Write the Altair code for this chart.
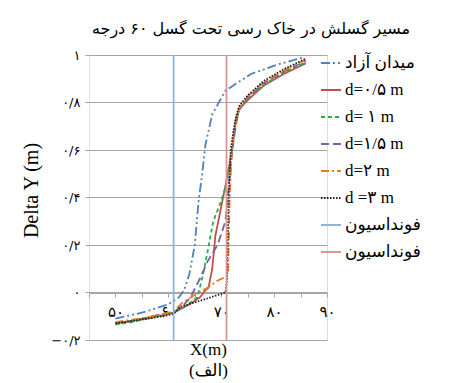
import altair as alt
import pandas as pd

# ---- data ----
series_keys = ["a", "b", "c", "d", "e", "f", "g", "h"]
series_labels = ["میدان آزاد", "d=۰/۵ m", "d= ۱ m", "d=۱/۵ m", "d=۲ m", "d =۳ m", "فونداسیون", "فونداسیون"]
series_colors = ["#4F81BD", "#C0504D", "#22B04B", "#7E5EA6", "#EE7A1E", "#202020", "#95B3D7", "#DA9694"]
series_dashes = [[9, 3, 2, 3, 2, 3], [1, 0], [4, 3], [8, 4], [8, 3, 2, 3], [1.5, 1.5], [1, 0], [1, 0]]
series_widths = [1.8, 1.8, 1.8, 1.8, 1.8, 1.6, 1.3, 1.3]

free_x = [50, 55, 60, 62, 63, 64, 65, 65.7, 66.4, 67, 68.3, 70.8, 75.6, 80.7, 85.6]
free_y = [-0.11, -0.085, -0.05, -0.02, 0.01, 0.08, 0.2, 0.38, 0.5, 0.62, 0.75, 0.85, 0.92, 0.96, 0.99]

d05_x = [50, 53, 56, 59, 61, 64, 66, 67, 67.6, 68.3, 68.9, 69.9, 70.8, 71.4, 72.1, 72.7, 73.3, 75, 78, 81.8, 86]
d05_y = [-0.13, -0.12, -0.11, -0.095, -0.085, -0.05, -0.02, 0.01, 0.02, 0.10, 0.24, 0.35, 0.45, 0.52, 0.61, 0.72, 0.77, 0.81, 0.87, 0.92, 0.965]

d1_x = [50, 53, 56, 59, 61, 63, 65.5, 66.4, 67.4, 68.5, 69.9, 70.8, 71.8, 72.3, 72.8, 73.4, 75, 78, 81.8, 86]
d1_y = [-0.135, -0.125, -0.11, -0.095, -0.085, -0.06, -0.02, 0.06, 0.17, 0.30, 0.38, 0.44, 0.55, 0.64, 0.72, 0.77, 0.815, 0.875, 0.925, 0.97]

d15_x = [50, 53, 56, 59, 61, 63, 64.2, 66, 67.4, 69.3, 70.8, 71.4, 71.9, 72.4, 72.9, 73.4, 75, 78, 81.8, 86]
d15_y = [-0.13, -0.12, -0.105, -0.09, -0.085, -0.05, -0.02, 0.06, 0.13, 0.20, 0.30, 0.44, 0.56, 0.65, 0.72, 0.77, 0.82, 0.88, 0.93, 0.975]

d2_x = [50, 53, 56, 59, 61, 62.8, 65, 67.4, 69.3, 70.8, 71.3, 71.6, 72, 72.5, 73, 73.5, 75, 78, 81.8, 86]
d2_y = [-0.125, -0.115, -0.105, -0.09, -0.08, -0.04, -0.01, 0.02, 0.05, 0.065, 0.08, 0.4, 0.6, 0.68, 0.74, 0.78, 0.825, 0.885, 0.935, 0.98]

d3_x = [50, 53, 56, 59, 61, 62.3, 66, 70.8, 71.1, 71.4, 71.8, 72.3, 72.8, 73.4, 75, 78, 81.8, 86]
d3_y = [-0.13, -0.12, -0.11, -0.1, -0.09, -0.06, -0.035, 0.0, 0.05, 0.4, 0.6, 0.68, 0.74, 0.785, 0.83, 0.89, 0.94, 0.985]

found1_x = [61, 61]
found1_y = [-0.2, 1]
found2_x = [71, 71]
found2_y = [-0.2, 1]

x_tick_values = [45, 50, 55, 60, 65, 70, 75, 80, 85, 90]
x_tick_labels = {50: "۵۰", 60: "۶۰", 70: "۷۰", 80: "۸۰", 90: "۹۰"}
y_tick_values = [-0.2, 0, 0.2, 0.4, 0.6, 0.8, 1]
y_tick_labels = ["−۰/۲", "۰", "۰/۲", "۰/۴", "۰/۶", "۰/۸", "۱"]

title_text = "مسیر گسلش در خاک رسی تحت گسل ۶۰ درجه"

# ---- build table ----
all_series = [
    ("a", free_x, free_y), ("b", d05_x, d05_y), ("c", d1_x, d1_y), ("d", d15_x, d15_y),
    ("e", d2_x, d2_y), ("f", d3_x, d3_y), ("g", found1_x, found1_y), ("h", found2_x, found2_y),
]
rows = []
for key, xs, ys in all_series:
    for i, (xv, yv) in enumerate(zip(xs, ys)):
        rows.append({"s": key, "x": xv, "y": yv, "o": i})
df = pd.DataFrame(rows)

# ---- label expressions ----
x_expr = " : ".join(f"datum.value == {v} ? '{t}'" for v, t in x_tick_labels.items()) + " : ''"
y_parts = []
for v, t in zip(y_tick_values, y_tick_labels):
    y_parts.append(f"abs(datum.value - ({v})) < 0.01 ? '{t}'")
y_expr = " : ".join(y_parts) + " : ''"
leg_expr = " : ".join(f"datum.value == '{k}' ? '{l}'" for k, l in zip(series_keys, series_labels)) + " : ''"

FONT_LAT = "Liberation Serif, DejaVu Sans"
FONT_AR = "DejaVu Sans"
GRID = "#A6A6A6"

W, H = 238, 285

legend = alt.Legend(
    title=None, orient="none", legendX=231, legendY=-3,
    symbolType="stroke", symbolSize=400, symbolStrokeWidth=2,
    labelExpr=leg_expr, labelFont=FONT_LAT, labelFontSize=17, labelColor="black",
    labelLimit=200, rowPadding=8, labelOffset=3,
)

chart = alt.Chart(df).mark_line().encode(
    x=alt.X("x:Q", scale=alt.Scale(domain=[45, 90], nice=False, zero=False),
            axis=alt.Axis(values=x_tick_values, labelExpr=x_expr, offset=-47, grid=False,
                          domain=True, domainColor=GRID, ticks=True, tickColor=GRID, tickSize=4,
                          labelFont=FONT_AR, labelFontSize=15, labelColor="black", labelPadding=7,
                          labelFlush=False, labelOverlap=False,
                          title=["X(m)", "(الف)"], titleFont=FONT_LAT, titleFontSize=17,
                          titleFontWeight="normal", titleColor="black", titleBaseline="top",
                          titleX=W / 2, titleY=48, titleLineHeight=21)),
    y=alt.Y("y:Q", scale=alt.Scale(domain=[-0.2, 1], nice=False),
            axis=alt.Axis(values=y_tick_values, labelExpr=y_expr, grid=True, gridColor=GRID,
                          domain=False, ticks=True, tickColor=GRID, tickSize=4,
                          labelFont=FONT_AR, labelFontSize=13, labelColor="black", labelPadding=5,
                          title="Delta Y (m)", titleFont=FONT_LAT, titleFontSize=20,
                          titleFontWeight="normal", titleColor="black",
                          titleAngle=270, titleAlign="center", titleBaseline="middle",
                          titleX=-58, titleY=135)),
    color=alt.Color("s:N", scale=alt.Scale(domain=series_keys, range=series_colors), legend=legend),
    strokeDash=alt.StrokeDash("s:N", scale=alt.Scale(domain=series_keys, range=series_dashes), legend=legend),
    strokeWidth=alt.StrokeWidth("s:N", scale=alt.Scale(domain=series_keys, range=series_widths), legend=None),
    order="o:Q",
).properties(
    width=W, height=H,
    title=alt.TitleParams(title_text, font=FONT_AR, fontSize=16, fontWeight="normal", color="black",
                          anchor="middle", dx=43, dy=22, baseline="bottom", offset=18),
    autosize=alt.AutoSizeParams(type="none"),
    padding={"left": 89, "top": 55, "right": 449 - 89 - W, "bottom": 383 - 55 - H},
).configure_view(stroke=None).configure(background="white")

chart.save("out.html", embed_options={"renderer": "svg", "actions": False})
